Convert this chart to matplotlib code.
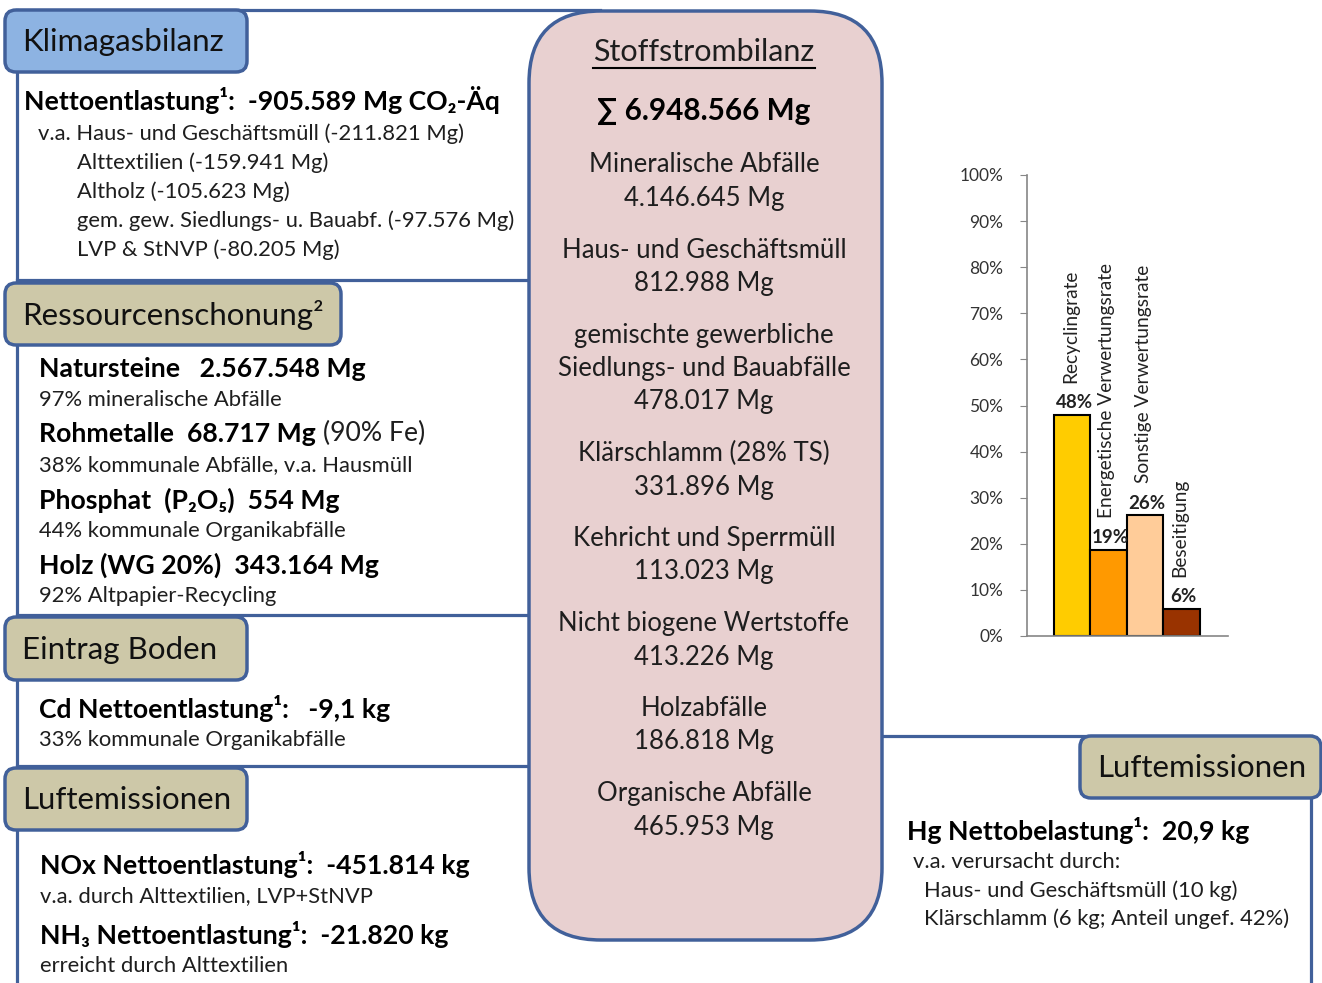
import numpy as np
import matplotlib.pyplot as plt
from matplotlib.patches import FancyBboxPatch

plt.rcParams['font.family'] = ['Lato', 'DejaVu Sans']

# ---- Inhalte ----
klima_head = 'Klimagasbilanz'
klima_main = 'Nettoentlastung¹:  -905.589 Mg CO₂-Äq'
klima_items = ['v.a. Haus- und Geschäftsmüll (-211.821 Mg)',
               'Alttextilien (-159.941 Mg)',
               'Altholz (-105.623 Mg)',
               'gem. gew. Siedlungs- u. Bauabf. (-97.576 Mg)',
               'LVP & StNVP (-80.205 Mg)']

res_head = 'Ressourcenschonung²'
res_main = ['Natursteine   2.567.548 Mg', 'Rohmetalle  68.717 Mg',
            'Phosphat  (P₂O₅)  554 Mg', 'Holz (WG 20%)  343.164 Mg']
res_extra = ['', ' (90% Fe)', '', '']
res_sub = ['97% mineralische Abfälle', '38% kommunale Abfälle, v.a. Hausmüll',
           '44% kommunale Organikabfälle', '92% Altpapier-Recycling']

boden_head = 'Eintrag Boden'
boden_main = 'Cd Nettoentlastung¹:   -9,1 kg'
boden_sub = '33% kommunale Organikabfälle'

luft_head = 'Luftemissionen'
luft_main = ['NOx Nettoentlastung¹:  -451.814 kg', 'NH₃ Nettoentlastung¹:  -21.820 kg']
luft_sub = ['v.a. durch Alttextilien, LVP+StNVP', 'erreicht durch Alttextilien']

hg_main = 'Hg Nettobelastung¹:  20,9 kg'
hg_items = ['v.a. verursacht durch:', 'Haus- und Geschäftsmüll (10 kg)',
            'Klärschlamm (6 kg; Anteil ungef. 42%)']

stoff_title = 'Stoffstrombilanz'
stoff_total = '∑ 6.948.566 Mg'
stoff_items = [['Mineralische Abfälle', '4.146.645 Mg'],
               ['Haus- und Geschäftsmüll', '812.988 Mg'],
               ['gemischte gewerbliche', 'Siedlungs- und Bauabfälle', '478.017 Mg'],
               ['Klärschlamm (28% TS)', '331.896 Mg'],
               ['Kehricht und Sperrmüll', '113.023 Mg'],
               ['Nicht biogene Wertstoffe', '413.226 Mg'],
               ['Holzabfälle', '186.818 Mg'],
               ['Organische Abfälle', '465.953 Mg']]

rate_labels = ['Recyclingrate', 'Energetische Verwertungsrate',
               'Sonstige Verwertungsrate', 'Beseitigung']
rate_values = [47.9, 18.7, 26.2, 5.9]
rate_colors = ['#ffcc00', '#ff9900', '#ffcc99', '#993300']

W, H = 1322, 983
BLUE = '#41609a'
TAN = '#cdc8a8'
LIGHTBLUE = '#8db3e2'
PINK = '#e8d0d0'
DARK = '#1e1e1e'

HEAD = 22.5
BOLD = 19.2
SMALL = 15.8
MID = 18.5

fig = plt.figure(figsize=(W / 100, H / 100), dpi=100)
ax = fig.add_axes([0, 0, 1, 1])
ax.set_xlim(0, W)
ax.set_ylim(H, 0)
ax.axis('off')

# Rahmenlinien der Abschnitte
lw = 2.3
ax.plot([17, 17], [10, H + 5], color=BLUE, lw=lw, zorder=1)
ax.plot([17, 600], [10, 10], color=BLUE, lw=lw, zorder=1)
for yy in [280, 615, 766]:
    ax.plot([17, 540], [yy, yy], color=BLUE, lw=lw, zorder=1)
ax.plot([870, 1311], [736, 736], color=BLUE, lw=lw, zorder=1)
ax.plot([1311, 1311], [736, H + 5], color=BLUE, lw=lw, zorder=1)

# mittlere Box
ax.add_patch(FancyBboxPatch((529, 11), 353, 929,
                            boxstyle='round,pad=0,rounding_size=72',
                            fc=PINK, ec=BLUE, lw=2.5, zorder=3))


def header(x, y, w, h, label, fc):
    ax.add_patch(FancyBboxPatch((x, y), w, h,
                                boxstyle='round,pad=0,rounding_size=11',
                                fc=fc, ec=BLUE, lw=2.5, zorder=4))
    ax.text(x + 17, y + h / 2 + 1, label, fontsize=HEAD, va='center',
            ha='left', color='#111111', zorder=5)


header(5, 10, 242, 62, klima_head, LIGHTBLUE)
header(5, 283, 336, 62, res_head, TAN)
header(5, 617, 242, 63, boden_head, TAN)
header(5, 768, 242, 62, luft_head, TAN)
header(1080, 736, 241, 62, luft_head, TAN)


def txt(x, y, s, size, bold=False, color='black', ha='left'):
    return ax.text(x, y, s, fontsize=size, fontweight='bold' if bold else 'normal',
                   va='center', ha=ha, color=color, zorder=6)


# Klimagasbilanz
txt(24, 100, klima_main, BOLD, bold=True)
txt(38, 134, klima_items[0], SMALL, color=DARK)
for i, s in enumerate(klima_items[1:]):
    txt(77, 163 + i * 29, s, SMALL, color=DARK)

# Ressourcenschonung
for i in range(4):
    y0 = 369 + i * 65.5
    t = txt(39, y0, res_main[i], BOLD, bold=True)
    if res_extra[i]:
        ax.annotate(res_extra[i], xy=(1, 0), xycoords=t, va='bottom', ha='left',
                    fontsize=BOLD, color=DARK, zorder=6)
    txt(39, y0 + 31, res_sub[i], SMALL, color=DARK)

# Eintrag Boden
txt(39, 708, boden_main, BOLD, bold=True)
txt(39, 740, boden_sub, SMALL, color=DARK)

# Luftemissionen links
for i in range(2):
    txt(40, 865 + i * 69, luft_main[i], BOLD, bold=True)
    txt(40, 896 + i * 70, luft_sub[i], SMALL, color=DARK)

# Luftemissionen rechts
txt(907, 830, hg_main, BOLD, bold=True)
txt(913, 862, hg_items[0], SMALL, color=DARK)
txt(924, 891, hg_items[1], SMALL, color=DARK)
txt(924, 919, hg_items[2], SMALL, color=DARK)

# Stoffstrombilanz
cx = 704
tt = txt(cx, 52, stoff_title, 22, color=DARK, ha='center')
txt(cx, 111, stoff_total, 21.4, bold=True, ha='center')
y = 165
for grp in stoff_items:
    for line in grp:
        txt(cx, y, line, MID, color=DARK, ha='center')
        y += 33.5
    y += 18

fig.canvas.draw()
bb = tt.get_window_extent().transformed(ax.transData.inverted())
ax.plot([bb.x0, bb.x1], [68, 68], color='black', lw=1.5, zorder=6)

# Balkendiagramm
bx = fig.add_axes([1027 / W, 1 - 636 / H, 201 / W, 461 / H])
pos = np.arange(len(rate_values))
bx.bar(pos, rate_values, width=1.0, color=rate_colors, edgecolor='black', lw=1.5)
bx.set_xlim(-1.24, 4.27)
bx.set_ylim(0, 100)
bx.set_yticks(np.arange(0, 101, 10))
bx.set_yticklabels([f'{v}%' for v in range(0, 101, 10)])
bx.tick_params(axis='y', length=5, color='#868686', labelsize=12.5,
               labelcolor='#333333', pad=12)
bx.tick_params(axis='x', length=0, labelbottom=False)
for side in ['top', 'right']:
    bx.spines[side].set_visible(False)
for side in ['left', 'bottom']:
    bx.spines[side].set_color('#868686')
    bx.spines[side].set_linewidth(1.2)
bx.patch.set_alpha(0)
for p, v, lab in zip(pos, rate_values, rate_labels):
    bx.text(p + 0.05, v + 0.8, f'{round(v)}%', ha='center', va='bottom',
            fontsize=13.5, fontweight='bold', color='#222222')
    bx.text(p - 0.05, v + 7.0, lab, rotation=90, ha='center', va='bottom',
            fontsize=13.8, color='#222222')

fig.savefig('out.png', dpi=100)
